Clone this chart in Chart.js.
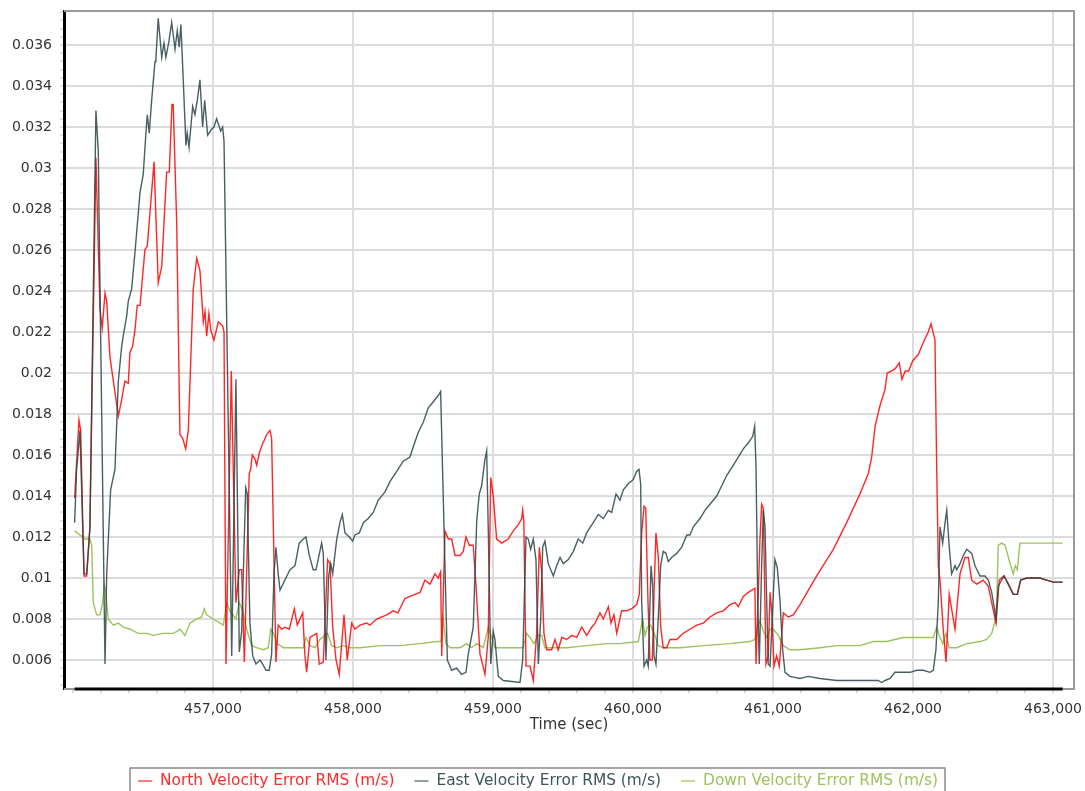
<!DOCTYPE html>
<html>
<head>
<meta charset="utf-8">
<title>Velocity Error RMS</title>
<script src="https://cdn.jsdelivr.net/npm/chart.js@4.4.0/dist/chart.umd.min.js"></script>
<style>
  html, body { margin: 0; padding: 0; background: #fff; }
  canvas { display: block; }
</style>
</head>
<body>
<canvas id="velchart" width="1085" height="791"></canvas>
<script>
// [time (sec), RMS (m/s)]
var northSeries = [[456012,0.0139],[456043,0.0177],[456055,0.0172],[456079,0.0101],[456098,0.0101],[456121,0.0125],[456164,0.0305],[456193,0.0231],[456209,0.0222],[456229,0.0239],[456241,0.0235],[456264,0.0208],[456324,0.0179],[456348,0.0187],[456371,0.0196],[456395,0.0195],[456407,0.0210],[456426,0.0213],[456443,0.0221],[456459,0.0233],[456479,0.0233],[456514,0.0260],[456531,0.0262],[456579,0.0303],[456609,0.0244],[456634,0.0252],[456669,0.0298],[456688,0.0298],[456707,0.0331],[456716,0.0331],[456741,0.0273],[456764,0.0170],[456784,0.0168],[456805,0.0163],[456824,0.0172],[456859,0.0241],[456884,0.0256],[456907,0.0250],[456931,0.0225],[456943,0.0230],[456955,0.0218],[456971,0.0229],[456984,0.0221],[457007,0.0216],[457038,0.0225],[457069,0.0223],[457079,0.0220],[457093,0.0058],[457131,0.0201],[457164,0.0088],[457188,0.0104],[457205,0.0104],[457224,0.0059],[457259,0.0151],[457269,0.0153],[457281,0.0160],[457300,0.0158],[457312,0.0155],[457331,0.0161],[457352,0.0165],[457384,0.0170],[457407,0.0172],[457419,0.0168],[457450,0.0059],[457466,0.0077],[457491,0.0075],[457514,0.0076],[457545,0.0075],[457581,0.0085],[457602,0.0077],[457641,0.0083],[457657,0.0062],[457669,0.0054],[457693,0.0071],[457741,0.0073],[457759,0.0058],[457788,0.0059],[457819,0.0109],[457836,0.0107],[457855,0.0076],[457879,0.0060],[457902,0.0053],[457936,0.0082],[457959,0.0060],[457991,0.0078],[458014,0.0075],[458050,0.0077],[458098,0.0078],[458121,0.0077],[458169,0.0080],[458241,0.0082],[458288,0.0084],[458321,0.0083],[458371,0.0090],[458407,0.0091],[458479,0.0093],[458514,0.0099],[458550,0.0097],[458586,0.0102],[458609,0.0100],[458626,0.0103],[458634,0.0062],[458657,0.0123],[458681,0.0119],[458705,0.0119],[458729,0.0111],[458764,0.0111],[458788,0.0113],[458807,0.0120],[458831,0.0116],[458859,0.0116],[458879,0.0096],[458907,0.0063],[458943,0.0053],[458966,0.0071],[458984,0.0149],[459002,0.0140],[459026,0.0119],[459062,0.0117],[459109,0.0119],[459145,0.0123],[459181,0.0126],[459205,0.0129],[459212,0.0133],[459220,0.0128],[459236,0.0057],[459264,0.0057],[459288,0.0050],[459312,0.0073],[459331,0.0115],[459348,0.0103],[459364,0.0073],[459384,0.0065],[459419,0.0065],[459443,0.0070],[459466,0.0065],[459491,0.0071],[459526,0.0070],[459562,0.0072],[459598,0.0071],[459634,0.0076],[459669,0.0072],[459705,0.0076],[459729,0.0078],[459764,0.0083],[459788,0.0080],[459824,0.0086],[459843,0.0078],[459864,0.0082],[459884,0.0073],[459919,0.0084],[459955,0.0084],[459991,0.0085],[460026,0.0087],[460045,0.0092],[460062,0.0122],[460079,0.0135],[460091,0.0134],[460107,0.0089],[460121,0.0060],[460138,0.0060],[460150,0.0092],[460164,0.0122],[460181,0.0110],[460198,0.0076],[460216,0.0066],[460241,0.0066],[460264,0.0070],[460312,0.0070],[460359,0.0073],[460407,0.0075],[460455,0.0077],[460502,0.0078],[460550,0.0081],[460598,0.0083],[460645,0.0084],[460693,0.0087],[460729,0.0088],[460752,0.0086],[460788,0.0091],[460824,0.0093],[460871,0.0095],[460879,0.0058],[460907,0.0119],[460919,0.0136],[460931,0.0134],[460950,0.0058],[460966,0.0062],[460979,0.0093],[460993,0.0082],[461007,0.0057],[461026,0.0062],[461045,0.0057],[461074,0.0083],[461109,0.0081],[461145,0.0082],[461193,0.0087],[461312,0.0101],[461431,0.0114],[461526,0.0127],[461621,0.0141],[461681,0.0151],[461705,0.0159],[461729,0.0174],[461764,0.0184],[461800,0.0192],[461816,0.0200],[461848,0.0201],[461871,0.0202],[461902,0.0205],[461921,0.0197],[461945,0.0201],[461969,0.0201],[461998,0.0206],[462038,0.0209],[462074,0.0215],[462109,0.0220],[462129,0.0224],[462157,0.0216],[462169,0.0155],[462181,0.0106],[462193,0.0099],[462216,0.0075],[462236,0.0059],[462259,0.0092],[462300,0.0075],[462336,0.0102],[462371,0.0110],[462395,0.0110],[462419,0.0099],[462455,0.0097],[462502,0.0099],[462538,0.0096],[462562,0.0088],[462593,0.0078],[462616,0.0099],[462650,0.0101],[462681,0.0097],[462716,0.0092],[462745,0.0092],[462769,0.0099],[462812,0.0100],[462859,0.0100],[462907,0.0100],[462955,0.0099],[463002,0.0098],[463069,0.0098]];

var eastSeries = [[456012,0.0127],[456026,0.0153],[456050,0.0172],[456079,0.0102],[456098,0.0102],[456121,0.0124],[456164,0.0328],[456181,0.0308],[456188,0.0268],[456229,0.0058],[456241,0.0102],[456269,0.0143],[456300,0.0153],[456324,0.0196],[456348,0.0213],[456359,0.0218],[456384,0.0228],[456395,0.0235],[456419,0.0241],[456443,0.0259],[456479,0.0288],[456502,0.0297],[456521,0.0317],[456531,0.0326],[456545,0.0317],[456562,0.0333],[456586,0.0352],[456593,0.0354],[456609,0.0373],[456634,0.0354],[456650,0.0361],[456664,0.0354],[456686,0.0362],[456705,0.0371],[456729,0.0358],[456745,0.0367],[456759,0.0359],[456771,0.0370],[456784,0.0349],[456807,0.0311],[456816,0.0317],[456829,0.0310],[456855,0.0330],[456871,0.0326],[456888,0.0333],[456907,0.0343],[456926,0.0320],[456941,0.0333],[456962,0.0316],[456991,0.0319],[457007,0.0320],[457026,0.0324],[457055,0.0318],[457069,0.0320],[457079,0.0313],[457134,0.0062],[457164,0.0197],[457188,0.0064],[457205,0.0074],[457234,0.0144],[457245,0.0141],[457264,0.0078],[457284,0.0062],[457307,0.0058],[457336,0.0060],[457355,0.0058],[457379,0.0055],[457402,0.0055],[457419,0.0063],[457436,0.0102],[457450,0.0115],[457466,0.0102],[457479,0.0094],[457514,0.0099],[457550,0.0104],[457586,0.0106],[457616,0.0117],[457645,0.0119],[457664,0.0120],[457688,0.0111],[457716,0.0104],[457736,0.0104],[457776,0.0117],[457788,0.0112],[457807,0.0060],[457826,0.0101],[457841,0.0107],[457855,0.0102],[457884,0.0119],[457907,0.0127],[457924,0.0131],[457943,0.0122],[457974,0.0120],[457998,0.0118],[458014,0.0121],[458045,0.0122],[458074,0.0127],[458109,0.0129],[458145,0.0132],[458181,0.0138],[458229,0.0142],[458264,0.0147],[458312,0.0152],[458359,0.0157],[458407,0.0159],[458431,0.0164],[458466,0.0171],[458502,0.0176],[458538,0.0183],[458574,0.0186],[458609,0.0189],[458626,0.0191],[458674,0.0060],[458705,0.0055],[458741,0.0056],[458776,0.0053],[458807,0.0054],[458824,0.0063],[458859,0.0076],[458884,0.0128],[458902,0.0141],[458919,0.0145],[458943,0.0158],[458955,0.0162],[458966,0.0125],[458984,0.0058],[459002,0.0074],[459014,0.0070],[459038,0.0052],[459074,0.0050],[459193,0.0049],[459212,0.0060],[459236,0.0120],[459252,0.0119],[459269,0.0114],[459288,0.0119],[459307,0.0109],[459324,0.0058],[459341,0.0080],[459355,0.0115],[459371,0.0118],[459395,0.0107],[459431,0.0101],[459455,0.0106],[459479,0.0110],[459502,0.0107],[459538,0.0109],[459574,0.0113],[459609,0.0119],[459641,0.0117],[459669,0.0122],[459716,0.0127],[459752,0.0131],[459788,0.0129],[459824,0.0133],[459848,0.0132],[459879,0.0141],[459907,0.0138],[459931,0.0143],[459966,0.0146],[460002,0.0148],[460026,0.0152],[460043,0.0153],[460055,0.0146],[460062,0.0089],[460079,0.0057],[460098,0.0060],[460109,0.0057],[460129,0.0106],[460141,0.0096],[460150,0.0062],[460164,0.0058],[460181,0.0081],[460198,0.0106],[460216,0.0113],[460236,0.0112],[460252,0.0108],[460276,0.0110],[460312,0.0112],[460348,0.0115],[460384,0.0121],[460407,0.0121],[460431,0.0125],[460479,0.0129],[460514,0.0133],[460550,0.0136],[460598,0.0140],[460634,0.0145],[460669,0.0150],[460716,0.0155],[460752,0.0159],[460788,0.0163],[460824,0.0166],[460855,0.0169],[460869,0.0174],[460879,0.0154],[460891,0.0089],[460902,0.0058],[460919,0.0106],[460931,0.0133],[460943,0.0125],[460955,0.0089],[460966,0.0058],[460979,0.0057],[460995,0.0081],[461014,0.0109],[461031,0.0105],[461050,0.0089],[461069,0.0065],[461086,0.0054],[461121,0.0052],[461193,0.0051],[461252,0.0052],[461336,0.0051],[461455,0.0050],[461574,0.0050],[461693,0.0050],[461752,0.0050],[461776,0.0049],[461800,0.0050],[461836,0.0051],[461871,0.0054],[461919,0.0054],[461979,0.0054],[462026,0.0055],[462074,0.0055],[462121,0.0054],[462145,0.0055],[462164,0.0065],[462181,0.0089],[462193,0.0125],[462212,0.0117],[462229,0.0127],[462241,0.0133],[462259,0.0115],[462276,0.0102],[462300,0.0106],[462312,0.0104],[462336,0.0107],[462359,0.0111],[462384,0.0114],[462419,0.0112],[462443,0.0106],[462479,0.0101],[462514,0.0101],[462538,0.0099],[462562,0.0093],[462579,0.0086],[462593,0.0080],[462609,0.0096],[462650,0.0101],[462681,0.0097],[462716,0.0092],[462745,0.0092],[462769,0.0099],[462812,0.0100],[462859,0.0100],[462907,0.0100],[462955,0.0099],[463002,0.0098],[463069,0.0098]];

var downSeries = [[456012,0.0123],[456050,0.0121],[456086,0.0119],[456121,0.0119],[456134,0.0116],[456145,0.0088],[456169,0.0082],[456193,0.0082],[456212,0.0088],[456224,0.0097],[456234,0.0093],[456252,0.0080],[456288,0.0077],[456324,0.0078],[456359,0.0076],[456407,0.0075],[456466,0.0073],[456526,0.0073],[456574,0.0072],[456645,0.0073],[456716,0.0073],[456743,0.0074],[456764,0.0075],[456800,0.0072],[456836,0.0078],[456884,0.0080],[456919,0.0081],[456938,0.0085],[456955,0.0082],[457002,0.0080],[457050,0.0078],[457074,0.0077],[457098,0.0088],[457121,0.0084],[457164,0.0080],[457188,0.0088],[457212,0.0084],[457241,0.0075],[457276,0.0067],[457312,0.0066],[457359,0.0065],[457395,0.0066],[457412,0.0075],[457431,0.0073],[457459,0.0068],[457502,0.0066],[457574,0.0066],[457645,0.0066],[457664,0.0071],[457693,0.0067],[457729,0.0066],[457764,0.0070],[457819,0.0073],[457848,0.0067],[457884,0.0066],[457931,0.0067],[457979,0.0066],[458050,0.0066],[458193,0.0067],[458336,0.0067],[458479,0.0068],[458598,0.0069],[458629,0.0069],[458645,0.0080],[458664,0.0068],[458693,0.0066],[458764,0.0066],[458812,0.0068],[458848,0.0066],[458884,0.0068],[458931,0.0066],[458966,0.0076],[458991,0.0071],[459014,0.0066],[459074,0.0066],[459169,0.0066],[459216,0.0066],[459241,0.0073],[459264,0.0071],[459293,0.0068],[459324,0.0072],[459348,0.0072],[459371,0.0066],[459431,0.0066],[459526,0.0066],[459669,0.0067],[459812,0.0068],[459907,0.0068],[460038,0.0069],[460055,0.0075],[460069,0.0080],[460086,0.0072],[460102,0.0076],[460126,0.0077],[460157,0.0072],[460181,0.0067],[460216,0.0066],[460336,0.0066],[460502,0.0067],[460693,0.0068],[460836,0.0069],[460871,0.0070],[460888,0.0076],[460907,0.0079],[460931,0.0074],[460955,0.0071],[460979,0.0075],[461002,0.0075],[461038,0.0072],[461074,0.0067],[461121,0.0065],[461193,0.0065],[461336,0.0066],[461455,0.0067],[461621,0.0067],[461716,0.0069],[461812,0.0069],[461931,0.0071],[462050,0.0071],[462145,0.0071],[462169,0.0076],[462188,0.0072],[462212,0.0068],[462236,0.0073],[462259,0.0066],[462312,0.0066],[462384,0.0068],[462479,0.0069],[462526,0.0070],[462562,0.0073],[462586,0.0079],[462598,0.0088],[462609,0.0116],[462634,0.0117],[462657,0.0116],[462674,0.0112],[462693,0.0107],[462716,0.0102],[462731,0.0106],[462745,0.0104],[462764,0.0117],[463069,0.0117]];

var seriesNames = ['North Velocity Error RMS (m/s)', 'East Velocity Error RMS (m/s)', 'Down Velocity Error RMS (m/s)'];
var timeTicks = [457000, 458000, 459000, 460000, 461000, 462000, 463000];
var rmsTicks = [0.006, 0.008, 0.01, 0.012, 0.014, 0.016, 0.018, 0.02, 0.022, 0.024, 0.026, 0.028, 0.03, 0.032, 0.034, 0.036];

var FONT = '"DejaVu Sans", Verdana, sans-serif';
var lineColors = ['rgba(255,0,0,0.85)', 'rgba(40,68,70,0.85)', '#9cc35e'];
var textColors = ['#ff2b2b', '#3f5657', '#9cc35e'];

function toPoints(s) {
    return s.map(function (p) { return { x: p[0], y: p[1] }; });
}
function isTimeMajor(v) { return timeTicks.indexOf(v) >= 0; }
function isRmsMajor(v) {
    return rmsTicks.some(function (t) { return Math.round(t * 10000) === Math.round(v * 10000); });
}
function noPad(scale) {
    scale.paddingTop = 0; scale.paddingBottom = 0;
    scale.paddingLeft = 0; scale.paddingRight = 0;
}

// gray frame, black time axis under the data and the boxed legend
var framePlugin = {
    id: 'frame',
    beforeDatasetsDraw: function (chart) {
        var a = chart.chartArea, ctx = chart.ctx, xs = chart.scales.x;
        ctx.save();
        ctx.strokeStyle = '#9a9a9a';
        ctx.lineWidth = 2;
        ctx.beginPath();
        ctx.moveTo(a.left, a.top);
        ctx.lineTo(a.right, a.top);
        ctx.lineTo(a.right, a.bottom);
        ctx.lineTo(a.left, a.bottom);
        ctx.stroke();
        ctx.strokeStyle = '#000';
        ctx.lineWidth = 3;
        ctx.beginPath();
        ctx.moveTo(xs.getPixelForValue(northSeries[0][0]), a.bottom);
        ctx.lineTo(xs.getPixelForValue(northSeries[northSeries.length - 1][0]), a.bottom);
        ctx.stroke();
        ctx.restore();
    },
    afterDraw: function (chart) {
        var ctx = chart.ctx;
        var sets = chart.data.datasets;
        ctx.save();
        ctx.font = '15.4px ' + FONT;
        var markW = 14, markGap = 8, itemGap = 20;
        var boxLeft = 130, boxRight = 945, y = 781;
        var x = boxLeft + 8;
        ctx.strokeStyle = '#8a8a8a';
        ctx.lineWidth = 1.5;
        ctx.strokeRect(boxLeft, 768, boxRight - boxLeft, 40);
        ctx.textBaseline = 'middle';
        ctx.textAlign = 'left';
        sets.forEach(function (d, i) {
            ctx.strokeStyle = d.borderColor;
            ctx.globalAlpha = 0.6;
            ctx.lineWidth = 2;
            ctx.beginPath();
            ctx.moveTo(x, y);
            ctx.lineTo(x + markW, y);
            ctx.stroke();
            ctx.globalAlpha = 1;
            ctx.fillStyle = textColors[i];
            ctx.fillText(d.label, x + markW + markGap, y);
            x += markW + markGap + ctx.measureText(d.label).width + itemGap;
        });
        ctx.restore();
    }
};

var velChart = new Chart(document.getElementById('velchart'), {
    type: 'line',
    data: {
        datasets: [{
            label: seriesNames[0],
            data: toPoints(northSeries),
            borderColor: lineColors[0],
            borderWidth: 1.4,
            pointRadius: 0,
            order: 1
        }, {
            label: seriesNames[1],
            data: toPoints(eastSeries),
            borderColor: lineColors[1],
            borderWidth: 1.4,
            pointRadius: 0,
            order: 0
        }, {
            label: seriesNames[2],
            data: toPoints(downSeries),
            borderColor: lineColors[2],
            borderWidth: 1.4,
            pointRadius: 0,
            order: 2
        }]
    },
    options: {
        responsive: false,
        animation: false,
        events: [],
        layout: {
            padding: { top: 11, right: 11, left: 0, bottom: 57 }
        },
        plugins: {
            legend: { display: false },
            tooltip: { enabled: false }
        },
        scales: {
            x: {
                type: 'linear',
                min: 455936,
                max: 463150,
                afterBuildTicks: function (scale) {
                    var t = [];
                    for (var v = 456000; v <= 463000; v += 200) {
                        if (v >= scale.min && v <= scale.max) t.push({ value: v });
                    }
                    scale.ticks = t;
                },
                afterFit: function (scale) { scale.height = 45; noPad(scale); },
                border: { display: false },
                grid: {
                    color: function (c) { return c.tick && isTimeMajor(c.tick.value) ? '#dcdcdc' : 'rgba(0,0,0,0)'; },
                    tickColor: '#b0b0b0',
                    lineWidth: 2,
                    tickLength: 4,
                    tickWidth: 1
                },
                ticks: {
                    autoSkip: false,
                    maxRotation: 0,
                    padding: 8,
                    color: '#333',
                    font: { family: FONT, size: 14 },
                    callback: function (v) { return isTimeMajor(v) ? v.toLocaleString('en-US') : ''; }
                },
                title: {
                    display: true,
                    text: 'Time (sec)',
                    color: '#333',
                    font: { family: FONT, size: 15 },
                    padding: { top: 0, bottom: 0 }
                }
            },
            y: {
                min: 0.004585,
                max: 0.03766,
                afterBuildTicks: function (scale) {
                    var t = [];
                    for (var k = 12; k <= 94; k++) {
                        var v = k * 4 / 10000;
                        if (v >= scale.min && v <= scale.max) t.push({ value: v });
                    }
                    scale.ticks = t;
                },
                afterFit: function (scale) { scale.width = 64; noPad(scale); },
                border: { display: true, color: '#000', width: 3 },
                grid: {
                    color: function (c) { return c.tick && isRmsMajor(c.tick.value) ? '#dcdcdc' : 'rgba(0,0,0,0)'; },
                    tickColor: '#c4c4c4',
                    lineWidth: 2,
                    tickLength: 4,
                    tickWidth: 1
                },
                ticks: {
                    autoSkip: false,
                    padding: 8,
                    color: '#333',
                    font: { family: FONT, size: 14 },
                    callback: function (v) { return isRmsMajor(v) ? String(Number(v.toFixed(4))) : ''; }
                }
            }
        }
    },
    plugins: [framePlugin]
});
</script>
</body>
</html>
